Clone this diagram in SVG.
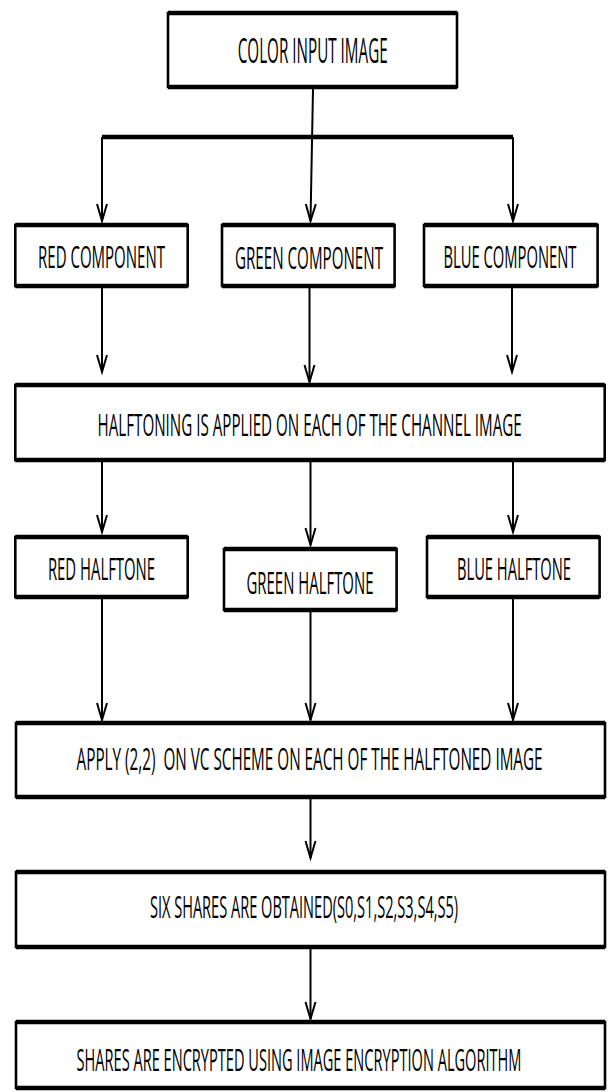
<svg xmlns="http://www.w3.org/2000/svg" width="608" height="1092" viewBox="0 0 608 1092">
<style>
.box{fill:#fff;stroke:#000;stroke-width:2.6}
.edge{fill:none;stroke:#000;stroke-width:4.4}
.lbl{font-family:"Open Sans","Noto Sans","Liberation Sans",sans-serif;font-size:31px;fill:#000;text-anchor:middle}
.conn{fill:none;stroke:#000;stroke-width:2}
.bar{fill:none;stroke:#000;stroke-width:4.4}
</style>
<defs>
<marker id="arr" viewBox="-19 -7 21 14" refX="0" refY="0" markerWidth="21" markerHeight="14" markerUnits="userSpaceOnUse" orient="auto" overflow="visible">
<path d="M-17,-5 L0,0 L-17,5" fill="none" stroke="#000" stroke-width="2"/>
</marker>
</defs>
<rect width="608" height="1092" fill="#fff"/>

<g id="connectors">
<path class="bar" d="M102,137 H513"/>
<path class="conn" d="M313,89 L310.5,221" marker-end="url(#arr)"/>
<path class="conn" d="M102,137 V221" marker-end="url(#arr)"/>
<path class="conn" d="M513,137 V221" marker-end="url(#arr)"/>
<path class="conn" d="M102,288 V372" marker-end="url(#arr)"/>
<path class="conn" d="M309.5,288 V382" marker-end="url(#arr)"/>
<path class="conn" d="M512,288 V372" marker-end="url(#arr)"/>
<path class="conn" d="M102,462 V532" marker-end="url(#arr)"/>
<path class="conn" d="M310.5,462 V545" marker-end="url(#arr)"/>
<path class="conn" d="M513,462 V532" marker-end="url(#arr)"/>
<path class="conn" d="M102,599 V720" marker-end="url(#arr)"/>
<path class="conn" d="M310.5,612 V720" marker-end="url(#arr)"/>
<path class="conn" d="M513,599 V720" marker-end="url(#arr)"/>
<path class="conn" d="M310.5,799 V858" marker-end="url(#arr)"/>
<path class="conn" d="M310.5,949 V1019" marker-end="url(#arr)"/>
</g>

<g id="color-input-image">
<rect class="box" x="168" y="13" width="289" height="74"/>
<path class="edge" d="M168,13 H457 M168,87 H457"/>
<text class="lbl" transform="translate(312.7,63) scale(0.46,1)" x="0" y="0" style="font-size:35px" textLength="326" lengthAdjust="spacingAndGlyphs">COLOR INPUT IMAGE</text>
</g>

<g id="red-component">
<rect class="box" x="15.3" y="225" width="172.4" height="61"/>
<path class="edge" d="M15.3,225 H187.7 M15.3,286 H187.7"/>
<text class="lbl" transform="translate(101.5,268) scale(0.46,1)" x="0" y="0" textLength="276" lengthAdjust="spacingAndGlyphs">RED COMPONENT</text>
</g>

<g id="green-component">
<rect class="box" x="222" y="225" width="172.6" height="61"/>
<path class="edge" d="M222,225 H394.6 M222,286 H394.6"/>
<text class="lbl" transform="translate(309,269) scale(0.46,1)" x="0" y="0" textLength="322" lengthAdjust="spacingAndGlyphs">GREEN COMPONENT</text>
</g>

<g id="blue-component">
<rect class="box" x="424" y="225" width="173.6" height="61"/>
<path class="edge" d="M424,225 H597.6 M424,286 H597.6"/>
<text class="lbl" transform="translate(510,268) scale(0.46,1)" x="0" y="0" textLength="289" lengthAdjust="spacingAndGlyphs">BLUE COMPONENT</text>
</g>

<g id="halftoning">
<rect class="box" x="15.3" y="385" width="589.4" height="75"/>
<path class="edge" d="M15.3,385 H604.7 M15.3,460 H604.7"/>
<text class="lbl" transform="translate(309.6,436) scale(0.46,1)" x="0" y="0" textLength="922" lengthAdjust="spacingAndGlyphs">HALFTONING IS APPLIED ON EACH OF THE CHANNEL IMAGE</text>
</g>

<g id="red-halftone">
<rect class="box" x="15.3" y="537" width="172.4" height="60"/>
<path class="edge" d="M15.3,537 H187.7 M15.3,597 H187.7"/>
<text class="lbl" transform="translate(101.5,580) scale(0.46,1)" x="0" y="0" textLength="233" lengthAdjust="spacingAndGlyphs">RED HALFTONE</text>
</g>

<g id="green-halftone">
<rect class="box" x="224" y="549" width="172.6" height="61"/>
<path class="edge" d="M224,549 H396.6 M224,610 H396.6"/>
<text class="lbl" transform="translate(310,594) scale(0.46,1)" x="0" y="0" textLength="276" lengthAdjust="spacingAndGlyphs">GREEN HALFTONE</text>
</g>

<g id="blue-halftone">
<rect class="box" x="427" y="537" width="172.6" height="60"/>
<path class="edge" d="M427,537 H599.6 M427,597 H599.6"/>
<text class="lbl" transform="translate(514,580) scale(0.46,1)" x="0" y="0" textLength="248" lengthAdjust="spacingAndGlyphs">BLUE HALFTONE</text>
</g>

<g id="apply-vc">
<rect class="box" x="16" y="723" width="589" height="74"/>
<path class="edge" d="M16,723 H605 M16,797 H605"/>
<text class="lbl" transform="translate(309.6,770) scale(0.46,1)" x="0" y="0" xml:space="preserve" textLength="1013" lengthAdjust="spacingAndGlyphs">APPLY (2,2)  ON VC SCHEME ON EACH OF THE HALFTONED IMAGE</text>
</g>

<g id="six-shares">
<rect class="box" x="16" y="872" width="589" height="75"/>
<path class="edge" d="M16,872 H605 M16,947 H605"/>
<text class="lbl" transform="translate(304,918) scale(0.46,1)" x="0" y="0" textLength="670" lengthAdjust="spacingAndGlyphs">SIX SHARES ARE OBTAINED(S0,S1,S2,S3,S4,S5)</text>
</g>

<g id="shares-encrypted">
<rect class="box" x="16" y="1022" width="589" height="66"/>
<path class="edge" d="M16,1022 H605 M16,1088 H605"/>
<text class="lbl" transform="translate(299,1071) scale(0.46,1)" x="0" y="0" textLength="967" lengthAdjust="spacingAndGlyphs">SHARES ARE ENCRYPTED USING IMAGE ENCRYPTION ALGORITHM</text>
</g>
</svg>
